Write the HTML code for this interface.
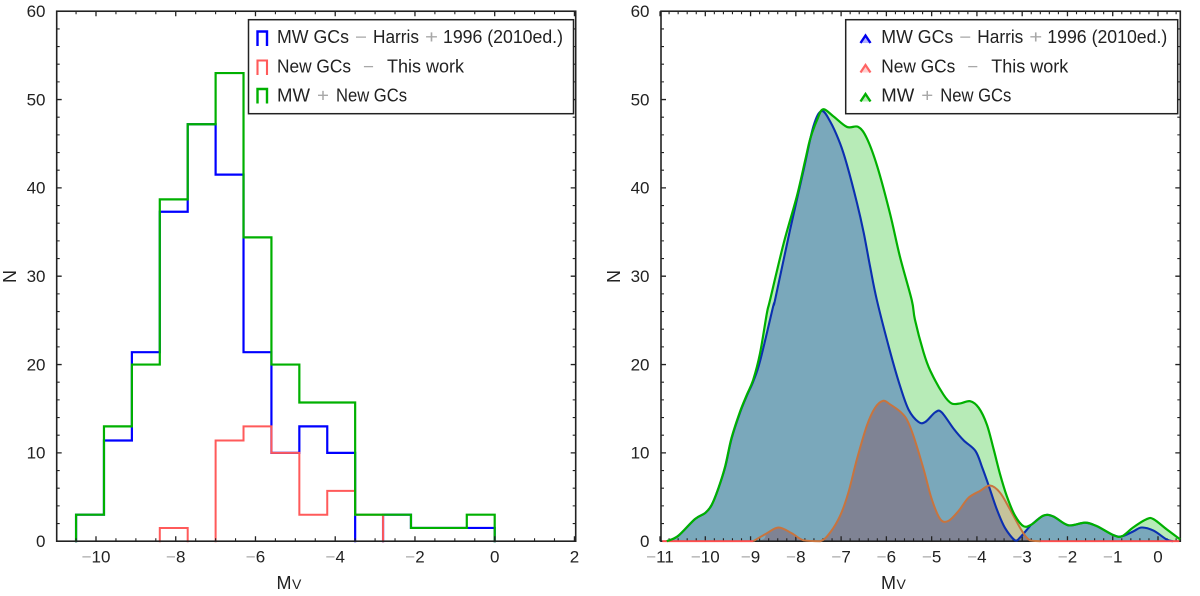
<!DOCTYPE html>
<html lang="en">
<head>
<meta charset="utf-8">
<title>MV histogram and KDE of globular clusters</title>
<style>
html,body{margin:0;padding:0;background:#fff;width:1200px;height:596px;overflow:hidden}
svg{display:block;filter:blur(0.3px)}
text{font-family:"Liberation Sans","DejaVu Sans",sans-serif;fill:#222}
.t{font-size:17px}
.l{font-size:18px}
.g{fill:#a8a8a8}
</style>
</head>
<body>
<svg id="chart" xmlns="http://www.w3.org/2000/svg" width="1200" height="596" viewBox="0 0 1200 596">
  <rect width="1200" height="596" fill="#fff"/>
  <g id="hist"></g>
  <g id="kde"></g>

  <g>
    <rect x="248.5" y="19.7" width="325" height="94" fill="#fff" stroke="#222" stroke-width="1.5"/>
    <path d="M257.500 46V31.500H267V46" fill="none" stroke="#0000ff" stroke-width="2.4"/>
    <path d="M257.500 75V60.500H267V75" fill="none" stroke="#ff5a5a" stroke-width="2.1"/>
    <path d="M257.500 103.500V89H267V103.500" fill="none" stroke="#00b000" stroke-width="2.4"/>
    <g>
      <text class="l" x="277" y="43" textLength="72" lengthAdjust="spacingAndGlyphs">MW GCs</text>
      <text class="l g" x="355" y="43" textLength="12" lengthAdjust="spacingAndGlyphs">−</text>
      <text class="l" x="373" y="43" textLength="46" lengthAdjust="spacingAndGlyphs">Harris</text>
      <text class="l g" x="425" y="43" textLength="13" lengthAdjust="spacingAndGlyphs">+</text>
      <text class="l" x="443" y="43" textLength="120" lengthAdjust="spacingAndGlyphs">1996 (2010ed.)</text>
    </g>
    <g>
      <text class="l" x="277" y="72.500" textLength="74" lengthAdjust="spacingAndGlyphs">New GCs</text>
      <text class="l g" x="363" y="72.500" textLength="11" lengthAdjust="spacingAndGlyphs">−</text>
      <text class="l" x="387" y="72.500" textLength="77" lengthAdjust="spacingAndGlyphs">This work</text>
    </g>
    <g>
      <text class="l" x="277" y="101.700" textLength="33" lengthAdjust="spacingAndGlyphs">MW</text>
      <text class="l g" x="317" y="101.700" textLength="12" lengthAdjust="spacingAndGlyphs">+</text>
      <text class="l" x="336" y="101.700" textLength="71" lengthAdjust="spacingAndGlyphs">New GCs</text>
    </g>
  </g>

  <g>
    <rect x="845.7" y="19.7" width="332" height="94" fill="#fff" stroke="#222" stroke-width="1.5"/>
    <path d="M860.500 43L865.500 35.500L870.500 43" fill="#b4b4ff" stroke="#0000ee" stroke-width="2.4"/>
    <path d="M860.500 72.500L865.500 65L870.500 72.500" fill="#ffd0d0" stroke="#ff6464" stroke-width="2.2"/>
    <path d="M860.500 101.500L865.500 94L870.500 101.500" fill="#b7ebb7" stroke="#00b000" stroke-width="2.4"/>
    <g>
      <text class="l" x="881.300" y="43" textLength="72" lengthAdjust="spacingAndGlyphs">MW GCs</text>
      <text class="l g" x="959.300" y="43" textLength="12" lengthAdjust="spacingAndGlyphs">−</text>
      <text class="l" x="977.300" y="43" textLength="46" lengthAdjust="spacingAndGlyphs">Harris</text>
      <text class="l g" x="1029.300" y="43" textLength="13" lengthAdjust="spacingAndGlyphs">+</text>
      <text class="l" x="1047.300" y="43" textLength="120" lengthAdjust="spacingAndGlyphs">1996 (2010ed.)</text>
    </g>
    <g>
      <text class="l" x="881.300" y="72.500" textLength="74" lengthAdjust="spacingAndGlyphs">New GCs</text>
      <text class="l g" x="967.300" y="72.500" textLength="11" lengthAdjust="spacingAndGlyphs">−</text>
      <text class="l" x="991.300" y="72.500" textLength="77" lengthAdjust="spacingAndGlyphs">This work</text>
    </g>
    <g>
      <text class="l" x="881.300" y="101.700" textLength="33" lengthAdjust="spacingAndGlyphs">MW</text>
      <text class="l g" x="921.300" y="101.700" textLength="12" lengthAdjust="spacingAndGlyphs">+</text>
      <text class="l" x="940.300" y="101.700" textLength="71" lengthAdjust="spacingAndGlyphs">New GCs</text>
    </g>
  </g>

  <text class="l" transform="translate(16,276.500) rotate(-90)" text-anchor="middle">N</text>
  <text class="l" transform="translate(620,276.500) rotate(-90)" text-anchor="middle">N</text>
  <text class="l" x="276.500" y="589">M<tspan font-size="14px" dx="0.5">V</tspan></text>
  <text class="l" x="881" y="589">M<tspan font-size="14px" dx="0.5">V</tspan></text>
</svg>

<script>
// Histogram data
const binEdges = [-10.5,-9.8,-9.1,-8.4,-7.7,-7.0,-6.3,-5.6,-4.9,-4.2,-3.5,-2.8,-2.1,-1.4,-0.7,0];
const histMw = [3,11.4,21.4,37.3,47.2,41.5,21.4,10,13,10,0,3,1.5,1.5,1.5];
const histNew = [0,0,0,1.5,0,11.4,13,10,3,5.7,3,0,0,0,0];
const histTotal = [3,13,20,38.7,47.2,53,34.4,20,15.7,15.7,3,3,1.5,1.5,3];

// KDE data
const kdeMwMag = [-10.85,-10.6,-10.23,-10,-9.86,-9.71,-9.56,-9.42,-9.23,-9.08,-8.94,-8.79,-8.5,-8.46,-8.13,-7.83,-7.61,-7.43,-7.24,-7.02,-6.87,-6.65,-6.5,-6.36,-6.21,-5.92,-5.7,-5.51,-5.29,-5.14,-4.92,-4.78,-4.51,-4.29,-4.03,-3.88,-3.74,-3.56,-3.38,-3.16,-3.05,-2.83,-2.79,-2.53,-2.31,-1.98,-1.61,-1.35,-0.99,-0.8,-0.55,-0.36,-0.1,0.19,0.33];
const kdeMwN = [0,0.6,2.5,3.2,4.1,6,8.4,11.6,14.6,16.5,18.1,20.4,26.6,27.3,35.2,42,47,48.7,47.5,45,42.6,38.3,34.9,31.1,27.3,21.5,17.6,14.9,13.5,13.5,14.6,14.6,12.7,11.4,10.2,8.3,6.3,3.6,1.5,0.1,0.4,1.7,1.9,2.9,2.8,1.8,2.1,1.7,0.7,0.55,1.1,1.55,1.2,0.2,0];
const kdeNewMag = [-10.95,-8.94,-8.64,-8.38,-8.09,-7.83,-7.46,-7.24,-7.02,-6.84,-6.65,-6.43,-6.25,-6.07,-5.92,-5.7,-5.55,-5.4,-5.18,-5,-4.81,-4.63,-4.41,-4.19,-3.93,-3.71,-3.49,-3.27,-3.01,-2.83,-2.6,0.47];
const kdeNewN = [0,0,0.9,1.55,0.9,0.1,0,1,2.9,5.5,9.3,13.1,15.1,15.9,15.5,14.7,13.8,11.9,8.2,4.8,2.5,2.3,3.4,4.9,5.7,6.3,5.5,3.6,1.2,0.1,0,0];
const kdeTotalMag = [-10.85,-10.6,-10.23,-10,-9.86,-9.71,-9.56,-9.42,-9.23,-9.08,-8.94,-8.79,-8.64,-8.57,-8.27,-7.98,-7.79,-7.68,-7.53,-7.4,-7.17,-6.87,-6.62,-6.43,-6.2,-5.92,-5.7,-5.44,-5.37,-5.18,-5.03,-4.74,-4.56,-4.37,-4.15,-3.96,-3.78,-3.63,-3.49,-3.34,-3.16,-2.97,-2.79,-2.53,-2.31,-1.98,-1.61,-1.35,-0.99,-0.8,-0.55,-0.25,-0.1,0.19,0.49];
const kdeTotalN = [0,0.6,2.5,3.2,4.1,6,8.5,11.7,14.7,16.6,18.3,21.3,25.8,27.3,33.7,39,43.2,45.6,47.7,48.9,48.1,46.9,46.9,45.6,42.4,37.1,32.2,27.3,25.1,21.4,19.3,16.6,15.6,15.6,15.85,15.1,13.2,10.4,7.6,5.1,2.9,1.7,1.9,2.9,2.8,1.8,2.1,1.7,0.7,0.55,1.55,2.5,2.5,1.35,0.2];

// Tick values
const yMajor = [0,10,20,30,40,50,60];
const yMinor = [2,4,6,8,12,14,16,18,22,24,26,28,32,34,36,38,42,44,46,48,52,54,56,58];
const histXMajor = [-10,-8,-6,-4,-2,0,2];
const histXMinor = [-10.5,-9.5,-9,-8.5,-7.5,-7,-6.5,-5.5,-5,-4.5,-3.5,-3,-2.5,-1.5,-1,-0.5,0.5,1,1.5];
const kdeXMajor = [-11,-10,-9,-8,-7,-6,-5,-4,-3,-2,-1,0];
const kdeXMinor = [-10.8,-10.6,-10.4,-10.2,-9.8,-9.6,-9.4,-9.2,-8.8,-8.6,-8.4,-8.2,-7.8,-7.6,-7.4,-7.2,-6.8,-6.6,-6.4,-6.2,-5.8,-5.6,-5.4,-5.2,-4.8,-4.6,-4.4,-4.2,-3.8,-3.6,-3.4,-3.2,-2.8,-2.6,-2.4,-2.2,-1.8,-1.6,-1.4,-1.2,-0.8,-0.6,-0.4,-0.2,0.2,0.4];

// Axis functions
const yScale = n => 541.2 - n * 8.833;
const histX = v => 494.7 + v * 39.87;
const kdeX = v => 1158 + v * 45.27;
const NS = 'http://www.w3.org/2000/svg';

function makeEl(parent, tag, attrs) {
  const el = document.createElementNS(NS, tag);
  for (const k in attrs) el.setAttribute(k, attrs[k]);
  parent.appendChild(el);
  return el;
}

function stepPath(values) {
  let d = '';
  let prev = 0;
  for (let i = 0; i < values.length; i++) {
    const x0 = histX(binEdges[i]).toFixed(2);
    const x1 = histX(binEdges[i + 1]).toFixed(2);
    if (values[i] !== prev) d += 'M' + x0 + ' ' + yScale(prev).toFixed(2) + 'L' + x0 + ' ' + yScale(values[i]).toFixed(2);
    if (values[i] > 0) d += 'M' + x0 + ' ' + yScale(values[i]).toFixed(2) + 'L' + x1 + ' ' + yScale(values[i]).toFixed(2);
    prev = values[i];
  }
  if (prev > 0) {
    const xe = histX(binEdges[binEdges.length - 1]).toFixed(2);
    d += 'M' + xe + ' ' + yScale(prev).toFixed(2) + 'L' + xe + ' ' + yScale(0).toFixed(2);
  }
  return d;
}

function smoothLine(mags, vals, from, to) {
  const base = yScale(0);
  const px = i => kdeX(mags[i]);
  const py = i => yScale(vals[i]);
  let d = 'M' + px(from).toFixed(2) + ' ' + py(from).toFixed(2);
  for (let i = from; i < to; i++) {
    const a = Math.max(i - 1, from);
    const b = Math.min(i + 2, to);
    const c1x = px(i) + (px(i + 1) - px(a)) / 6;
    const c1y = Math.min(base, py(i) + (py(i + 1) - py(a)) / 6);
    const c2x = px(i + 1) - (px(b) - px(i)) / 6;
    const c2y = Math.min(base, py(i + 1) - (py(b) - py(i)) / 6);
    d += 'C' + c1x.toFixed(2) + ' ' + c1y.toFixed(2) + ' ' + c2x.toFixed(2) + ' ' + c2y.toFixed(2) + ' ' + px(i + 1).toFixed(2) + ' ' + py(i + 1).toFixed(2);
  }
  return d;
}

function areaPath(mags, vals) {
  const last = mags.length - 1;
  return smoothLine(mags, vals, 0, last) + 'L' + kdeX(mags[last]).toFixed(2) + ' ' + yScale(0).toFixed(2) + 'L' + kdeX(mags[0]).toFixed(2) + ' ' + yScale(0).toFixed(2) + 'Z';
}

function tickLabel(parent, x, y, anchor, value, name) {
  const t = makeEl(parent, 'text', {class: 't', x: x, y: y, 'text-anchor': anchor});
  
  
  if (value < 0) {
    const m = makeEl(t, 'tspan', {class: 'g'});
    m.textContent = '−';
  }
  const s = makeEl(t, 'tspan', {});
  s.textContent = String(Math.abs(value));
}

function drawAxes(parent, x0, x1, xf, xMajor, xMinor, yLabelX) {
  const top = yScale(60);
  const bot = yScale(0);
  let major = '';
  let minor = '';
  xMajor.forEach(v => {
    const x = xf(v).toFixed(2);
    major += 'M' + x + ' ' + bot + 'V' + (bot - 5) + 'M' + x + ' ' + top + 'V' + (top + 5);
    tickLabel(parent, x, 562.7, 'middle', v, 'x-tick-label');
  });
  xMinor.forEach(v => {
    const x = xf(v).toFixed(2);
    minor += 'M' + x + ' ' + bot + 'V' + (bot - 3) + 'M' + x + ' ' + top + 'V' + (top + 3);
  });
  yMajor.forEach(v => {
    const y = yScale(v).toFixed(2);
    major += 'M' + x0 + ' ' + y + 'H' + (x0 + 5) + 'M' + x1 + ' ' + y + 'H' + (x1 - 5);
    tickLabel(parent, yLabelX, yScale(v) + 5.8, 'end', v, 'y-tick-label');
  });
  yMinor.forEach(v => {
    const y = yScale(v).toFixed(2);
    minor += 'M' + x0 + ' ' + y + 'H' + (x0 + 3) + 'M' + x1 + ' ' + y + 'H' + (x1 - 3);
  });
  const majorTicks = makeEl(parent, 'path', {d: major, stroke: '#222', 'stroke-width': 1.3, fill: 'none'});
  
  
  const minorTicks = makeEl(parent, 'path', {d: minor, stroke: '#222', 'stroke-width': 1.1, fill: 'none'});
  
  
  const frame = makeEl(parent, 'rect', {x: x0, y: top, width: x1 - x0, height: bot - top, fill: 'none', stroke: '#222', 'stroke-width': 1.6});
  
  
}

// Histogram panel
const hist = document.getElementById('hist');
const histBlue = makeEl(hist, 'path', {d: stepPath(histMw), fill: 'none', stroke: '#0000ff', 'stroke-width': 2.2, 'stroke-linecap': 'square'});


const histRed = makeEl(hist, 'path', {d: stepPath(histNew), fill: 'none', stroke: '#ff5a5a', 'stroke-width': 2, 'stroke-linecap': 'square'});


const histGreen = makeEl(hist, 'path', {d: stepPath(histTotal), fill: 'none', stroke: '#00b000', 'stroke-width': 2.2, 'stroke-linecap': 'square'});


drawAxes(hist, 56.7, 575.7, histX, histXMajor, histXMinor, 45.5);

// KDE panel
const kde = document.getElementById('kde');
const defs = makeEl(kde, 'defs', {});
const clip = makeEl(defs, 'clipPath', {id: 'mw-clip'});
makeEl(clip, 'path', {d: areaPath(kdeMwMag, kdeMwN)});

const fillTotal = makeEl(kde, 'path', {d: areaPath(kdeTotalMag, kdeTotalN), fill: '#b7ebb7'});


const fillMw = makeEl(kde, 'path', {d: areaPath(kdeMwMag, kdeMwN), fill: '#7aa8bb'});


const fillNew = makeEl(kde, 'path', {d: areaPath(kdeNewMag, kdeNewN), fill: '#c5c39b'});


const fillOverlap = makeEl(kde, 'path', {d: areaPath(kdeNewMag, kdeNewN), fill: '#7f8394', 'clip-path': 'url(#mw-clip)'});



drawAxes(kde, 661, 1180.3, kdeX, kdeXMajor, kdeXMinor, 649.5);

const lineMw = makeEl(kde, 'path', {d: smoothLine(kdeMwMag, kdeMwN, 0, kdeMwMag.length - 1), fill: 'none', stroke: '#0b2fb0', 'stroke-width': 2.1});


const lineNew = makeEl(kde, 'path', {d: smoothLine(kdeNewMag, kdeNewN, 1, kdeNewMag.length - 2), fill: 'none', stroke: '#c8743e', 'stroke-width': 2});


const lineNewBaseLeft = makeEl(kde, 'path', {d: smoothLine(kdeNewMag, kdeNewN, 0, 1), fill: 'none', stroke: '#ff4d4d', 'stroke-width': 1.8});


const lineNewBaseRight = makeEl(kde, 'path', {d: smoothLine(kdeNewMag, kdeNewN, kdeNewMag.length - 2, kdeNewMag.length - 1), fill: 'none', stroke: '#ff4d4d', 'stroke-width': 1.8});


const lineTotal = makeEl(kde, 'path', {d: smoothLine(kdeTotalMag, kdeTotalN, 0, kdeTotalMag.length - 1), fill: 'none', stroke: '#00b000', 'stroke-width': 2.2});


</script>
</body>
</html>
